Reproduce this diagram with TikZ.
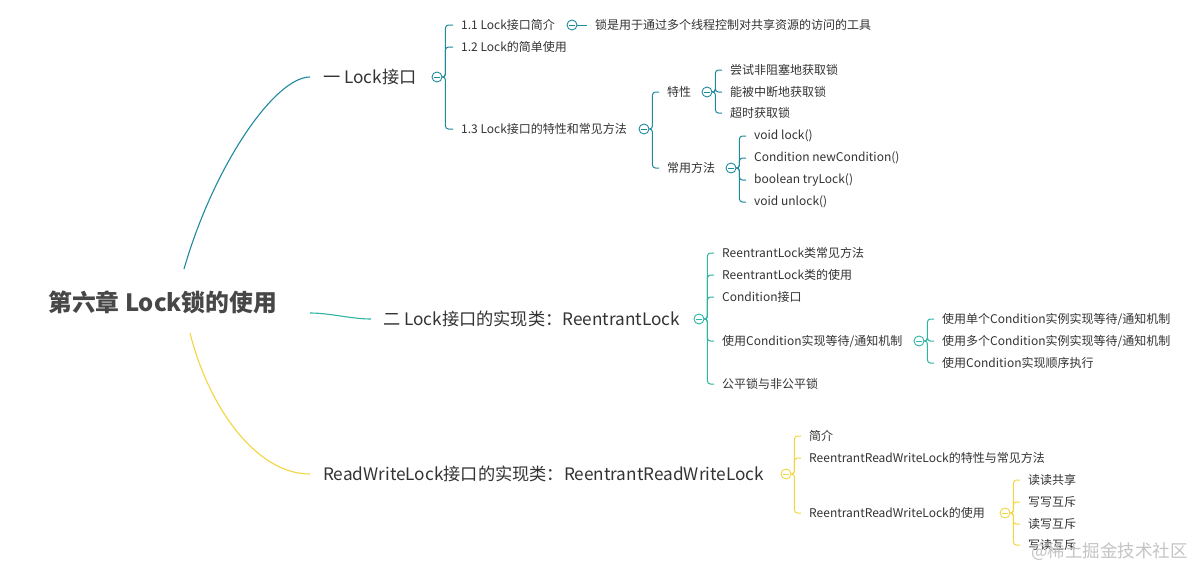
\documentclass[tikz,border=0pt]{standalone}
\usepackage{fontspec}
\setmainfont{Noto Sans CJK SC}
\definecolor{txtc}{HTML}{333333}
\definecolor{rootc}{HTML}{474747}
\definecolor{cA}{HTML}{1F8A9E}
\definecolor{cB}{HTML}{2DB5A2}
\definecolor{cC}{HTML}{F3D63F}
\definecolor{wm}{HTML}{C4C4C4}
\tikzset{
  txt/.style={anchor=west, inner sep=0pt, text=txtc, font=\fontsize{12}{14}\selectfont},
  lvl/.style={anchor=west, inner sep=0pt, text=txtc, font=\fontsize{17.2}{19}\selectfont},
  rootnode/.style={anchor=west, inner sep=0pt, text=rootc, font=\fontsize{23.8}{26}\selectfont\bfseries},
  tog/.style={circle, draw=#1, fill=white, minimum size=10pt, inner sep=0pt, line width=0.9pt,
    path picture={\draw[#1, line width=0.8pt] ([xshift=-2.6pt]path picture bounding box.center) -- ([xshift=2.6pt]path picture bounding box.center);}},
  br/.style={draw=#1, line width=1pt, rounded corners=3pt},
  mainedge/.style={draw=#1, line width=1.1pt},
}
\begin{document}
\begin{tikzpicture}[x=1pt, y=-1pt]
\useasboundingbox (0,0) rectangle (1197,571);
\fill[white] (0,0) rectangle (1197,571);

% root
\node[rootnode] (root) at (48,302) {第六章 Lock锁的使用};
\coordinate (rA) at (184,269);
\coordinate (rB) at (310,313);
\coordinate (rC) at (190,333);

% level 1
\node[lvl] (A) at (323,77) {一 Lock接口};
\node[lvl] (B) at (383,319) {二 Lock接口的实现类：ReentrantLock};
\node[lvl] (C) at (323,474) {ReadWriteLock接口的实现类：ReentrantReadWriteLock};

\draw[mainedge=cA] (rA) .. controls ([shift={(30,-104)}]rA) and ([shift={(-48,0)}]A.west) .. ([xshift=-13pt]A.west);
\draw[mainedge=cB] (rB) .. controls ([shift={(20,0)}]rB) and ([shift={(-32,0)}]B.west) .. ([xshift=-12pt]B.west);
\draw[mainedge=cC] (rC) .. controls ([shift={(18,72)}]rC) and ([shift={(-68,0)}]C.west) .. ([xshift=-13pt]C.west);

% ---------- branch A ----------
\node[tog=cA] (tA) at (437,77) {};
\node[txt] (A1) at (461,25) {1.1 Lock接口简介};
\node[txt] (A2) at (461,47) {1.2 Lock的简单使用};
\node[txt] (A3) at (461,129) {1.3 Lock接口的特性和常见方法};
\foreach \c in {A1,A2,A3} \draw[br=cA] (tA.east) -- ++(3,0) |- ([xshift=-8pt]\c.west);

\node[tog=cA] (tA1) at (572,25) {};
\node[txt] (A11) at (595,25) {锁是用于通过多个线程控制对共享资源的访问的工具};
\draw[draw=cA, line width=1pt] (tA1.east) -- ([xshift=-8pt]A11.west);

\node[tog=cA] (tA3) at (644,129) {};
\node[txt] (A31) at (667,92) {特性};
\node[txt] (A32) at (667,168) {常用方法};
\foreach \c in {A31,A32} \draw[br=cA] (tA3.east) -- ++(3,0) |- ([xshift=-8pt]\c.west);

\node[tog=cA] (tA31) at (707,92) {};
\node[txt] (A311) at (730,70) {尝试非阻塞地获取锁};
\node[txt] (A312) at (730,92) {能被中断地获取锁};
\node[txt] (A313) at (730,113) {超时获取锁};
\foreach \c in {A311,A312,A313} \draw[br=cA] (tA31.east) -- ++(3,0) |- ([xshift=-8pt]\c.west);

\node[tog=cA] (tA32) at (731,168) {};
\node[txt] (A321) at (754,136) {void lock()};
\node[txt] (A322) at (754,158) {Condition newCondition()};
\node[txt] (A323) at (754,180) {boolean tryLock()};
\node[txt] (A324) at (754,202) {void unlock()};
\foreach \c in {A321,A322,A323,A324} \draw[br=cA] (tA32.east) -- ++(3,0) |- ([xshift=-8pt]\c.west);

% ---------- branch B ----------
\node[tog=cB] (tB) at (699,319) {};
\node[txt] (B1) at (722,253) {ReentrantLock类常见方法};
\node[txt] (B2) at (722,275) {ReentrantLock类的使用};
\node[txt] (B3) at (722,297) {Condition接口};
\node[txt] (B4) at (722,341) {使用Condition实现等待/通知机制};
\node[txt] (B5) at (722,384) {公平锁与非公平锁};
\foreach \c in {B1,B2,B3,B4,B5} \draw[br=cB] (tB.east) -- ++(3,0) |- ([xshift=-8pt]\c.west);

\node[tog=cB] (tB4) at (919,341) {};
\node[txt] (B41) at (942,319) {使用单个Condition实例实现等待/通知机制};
\node[txt] (B42) at (942,341) {使用多个Condition实例实现等待/通知机制};
\node[txt] (B43) at (942,363) {使用Condition实现顺序执行};
\foreach \c in {B41,B42,B43} \draw[br=cB] (tB4.east) -- ++(3,0) |- ([xshift=-8pt]\c.west);

% ---------- branch C ----------
\node[tog=cC] (tC) at (786,474) {};
\node[txt] (C1) at (809,436) {简介};
\node[txt] (C2) at (809,458) {ReentrantReadWriteLock的特性与常见方法};
\node[txt] (C3) at (809,513) {ReentrantReadWriteLock的使用};
\foreach \c in {C1,C2,C3} \draw[br=cC] (tC.east) -- ++(3,0) |- ([xshift=-8pt]\c.west);

\node[tog=cC] (tC3) at (1005,513) {};
\node[txt] (C31) at (1028,480) {读读共享};
\node[txt] (C32) at (1028,502) {写写互斥};
\node[txt] (C33) at (1028,524) {读写互斥};
\node[txt] (C34) at (1028,545) {写读互斥};
\foreach \c in {C31,C32,C33,C34} \draw[br=cC] (tC3.east) -- ++(3,0) |- ([xshift=-8pt]\c.west);

% watermark
\node[anchor=west, inner sep=0pt, text=wm, font=\fontsize{17.5}{20}\selectfont] (wmk) at (1031,552) {@稀土掘金技术社区};
\end{tikzpicture}
\end{document}
